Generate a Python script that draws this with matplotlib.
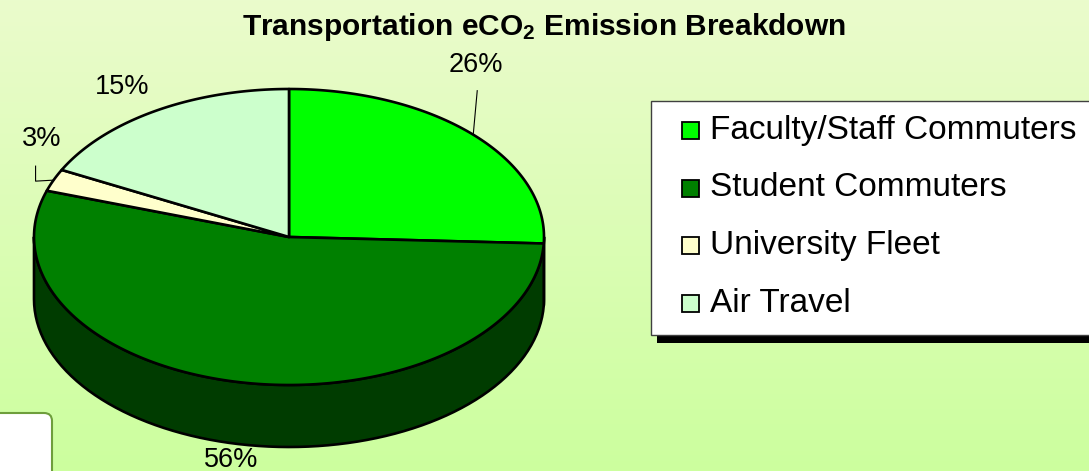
import numpy as np
import matplotlib
matplotlib.use('Agg')
import matplotlib.pyplot as plt
from matplotlib.patches import Polygon, Rectangle, FancyBboxPatch

# ---------------- data ----------------
categories = ['Faculty/Staff Commuters', 'Student Commuters', 'University Fleet', 'Air Travel']
values = [26, 56, 3, 15]
pct_labels = ['26%', '56%', '3%', '15%']
top_colors = ['#00FF00', '#008000', '#FFFFCC', '#CCFFCC']
side_colors = ['#00A000', '#003C00', '#B8B890', '#90B890']
title_text = 'Transportation eCO$_2$ Emission Breakdown'

plt.rcParams['font.family'] = ['Liberation Sans', 'DejaVu Sans']
plt.rcParams['mathtext.fontset'] = 'custom'
plt.rcParams['mathtext.rm'] = 'Liberation Sans:bold'
plt.rcParams['mathtext.it'] = 'Liberation Sans:bold'
plt.rcParams['mathtext.bf'] = 'Liberation Sans:bold'

W, H = 1089, 471
fig = plt.figure(figsize=(W / 100, H / 100), dpi=100)
ax = fig.add_axes([0, 0, 1, 1])
ax.set_xlim(0, W)
ax.set_ylim(H, 0)
ax.axis('off')

# background gradient
c_top = np.array([0.92, 0.985, 0.80])
c_bot = np.array([0.80, 1.00, 0.62])
t = np.linspace(0, 1, 256)[:, None, None]
grad = c_top * (1 - t) + c_bot * t
ax.imshow(grad, extent=[0, W, H, 0], aspect='auto', zorder=0)

# ---------------- 3D pie geometry ----------------
cx, cy, a, b, depth = 289, 237, 255, 148, 62
k = 0.7  # view distortion of the slice angles
lw = 1.9


def vis(th):
    """true angle (deg) -> visible angle on the ellipse (deg), continuous"""
    r = np.radians(th)
    phi = np.degrees(np.arctan2(k * np.sin(r), np.cos(r)))
    return phi + 360 * np.round((th - phi) / 360)


def pt(phi, dy=0.0):
    r = np.radians(phi)
    return cx + a * np.cos(r), cy - b * np.sin(r) + dy


vals = np.array(values, dtype=float)
fr = vals / vals.sum()
edges_true = 90 - 360 * np.concatenate([[0], np.cumsum(fr)])
edges_vis = np.array([vis(e) for e in edges_true])

# side walls (front half only)
for i in range(len(values)):
    hi, lo = edges_vis[i], edges_vis[i + 1]
    for kk in range(-2, 2):
        f_lo, f_hi = -180 + 360 * kk, 360 * kk
        s_lo, s_hi = max(lo, f_lo), min(hi, f_hi)
        if s_hi - s_lo > 0.05:
            ang = np.linspace(s_hi, s_lo, 80)
            topx, topy = pt(ang)
            botx, boty = pt(ang[::-1], depth)
            poly = np.column_stack([np.concatenate([topx, botx]),
                                    np.concatenate([topy, boty])])
            ax.add_patch(Polygon(poly, closed=True, facecolor=side_colors[i],
                                 edgecolor='black', lw=lw, zorder=2,
                                 joinstyle='round'))

# top face wedges
for i in range(len(values)):
    ang = np.linspace(edges_vis[i], edges_vis[i + 1], 150)
    x, y = pt(ang)
    poly = np.column_stack([np.concatenate([[cx], x]), np.concatenate([[cy], y])])
    ax.add_patch(Polygon(poly, closed=True, facecolor=top_colors[i],
                         edgecolor='black', lw=lw, zorder=3, joinstyle='round'))

# ---------------- labels ----------------
label_offsets = [(3, -70), (-12, 77), (-12, -41), (-34, -24)]
leader = [True, False, True, False]
fs_lab = 19.5
for i in range(len(values)):
    mid = 0.5 * (edges_vis[i] + edges_vis[i + 1])
    axx, ayy = pt(mid)
    lx, ly = axx + label_offsets[i][0], ayy + label_offsets[i][1]
    ax.text(lx, ly, pct_labels[i], fontsize=fs_lab, ha='center', va='center',
            color='black', zorder=5)
    if leader[i]:
        if ly < ayy and abs(lx - axx) < 10:
            ax.plot([lx + 1, axx], [ly + 26, ayy], color='black', lw=0.8, zorder=4)
        else:
            ax.plot([lx - 6, lx - 6, axx], [ly + 27, ly + 42, ayy],
                    color='black', lw=0.8, zorder=4)

# title
ax.text(544, 35, title_text, fontsize=21.5, fontweight='bold', ha='center',
        va='baseline', color='black', zorder=5)

# ---------------- legend ----------------
lg_x, lg_y, lg_w, lg_h = 651, 101, 460, 234
ax.add_patch(Rectangle((lg_x + 6, lg_y + 8), lg_w, lg_h, facecolor='black',
                       edgecolor='none', zorder=5))
ax.add_patch(Rectangle((lg_x, lg_y), lg_w, lg_h, facecolor='white',
                       edgecolor='#404040', lw=1.0, zorder=6))
row_base0, row_dy = 139, 57.5
for i, name in enumerate(categories):
    base = row_base0 + i * row_dy
    ax.add_patch(Rectangle((682, base - 17), 17, 17, facecolor=top_colors[i],
                           edgecolor='black', lw=1.3, zorder=7))
    ax.text(710, base, name, fontsize=24, ha='left', va='baseline',
            color='black', zorder=7)

# slide artefact: rounded white box at bottom-left
ax.add_patch(FancyBboxPatch((-20, 413), 72, 80,
                            boxstyle='round,pad=0,rounding_size=8',
                            facecolor='white', edgecolor='#6E9E3C', lw=1.5,
                            zorder=8))

fig.savefig('out.png', dpi=100)
